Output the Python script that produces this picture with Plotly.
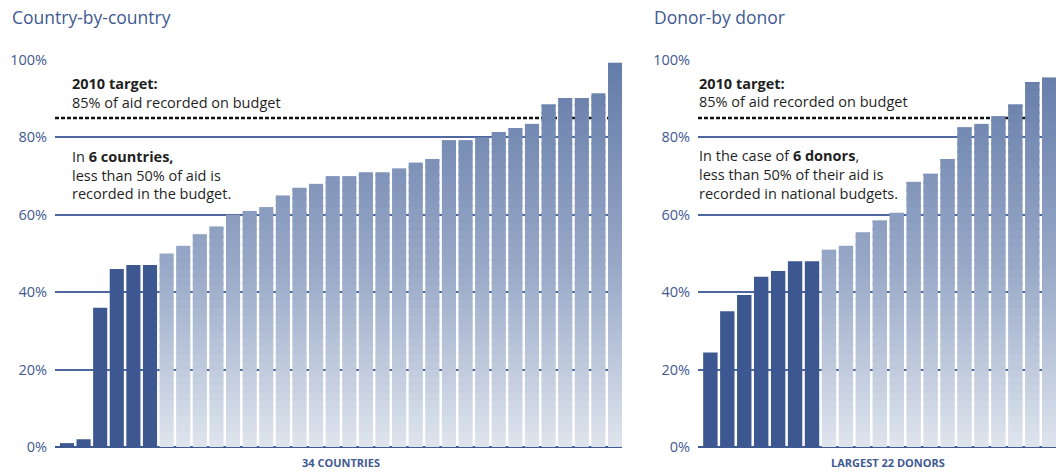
import plotly.graph_objects as go
from plotly.colors import sample_colorscale

# Share of aid recorded on budget (%), sorted ascending
countries_pct = [1, 2, 36, 46, 47, 47, 50, 52, 55, 57, 60, 61, 62, 65, 67, 68, 70, 70,
                 71, 71, 72, 73.5, 74.3, 79.3, 79.3, 80, 81.4, 82.3, 83.5, 88.5, 90.1,
                 90.1, 91.4, 99.3]
donors_pct = [24.4, 35.1, 39.3, 44, 45.5, 48, 48, 51, 52, 55.5, 58.5, 60.5, 68.5, 70.6,
              74.3, 82.6, 83.5, 85.5, 88.5, 94.3, 95.5, 97]

target_pct = 85
threshold_pct = 50
y_ticks = [0, 20, 40, 60, 80, 100]
y_tick_text = ["0%", "20%", "40%", "60%", "80%", "100%"]

W, H = 1056, 472
BLUE = "#3f5a91"
DARK_BAR = "#3d5890"
GRAD = [[0.0, "#dfe5ee"], [0.45, "#9aaac8"], [1.0, "#637ba8"]]
FONT = "Open Sans"


def px_x(x):
    return x / W


def px_y(y):
    return 1 - y / H


fig = go.Figure()


def add_bars(values, xaxis, yaxis):
    idx = list(range(len(values)))
    dark = [v if v < threshold_pct else 0 for v in values]
    fig.add_trace(go.Bar(x=idx, y=dark, base=0, marker=dict(color=DARK_BAR, line=dict(width=0)),
                         xaxis=xaxis, yaxis=yaxis, showlegend=False, hoverinfo="skip"))
    # light bars are built from thin horizontal slices to get a vertical gradient;
    # each slice overlaps the next one a little so no seams show
    step, overlap = 2, 0.6
    for k in range(0, 100, step):
        seg = [max(0, min(step + overlap, v - k)) if v >= threshold_pct else 0 for v in values]
        if not any(seg):
            continue
        col = sample_colorscale(GRAD, [(k + step / 2) / 100])[0]
        fig.add_trace(go.Bar(x=idx, y=seg, base=[k] * len(values),
                             marker=dict(color=col, line=dict(width=0)),
                             xaxis=xaxis, yaxis=yaxis, showlegend=False, hoverinfo="skip"))


add_bars(countries_pct, "x", "y")
add_bars(donors_pct, "x2", "y2")

ydom = [px_y(447), px_y(60)]
yax = dict(range=[0, 100], domain=ydom, tickvals=y_ticks, ticktext=y_tick_text,
           showgrid=True, gridcolor="#4e67a0", gridwidth=1.5,
           zeroline=True, zerolinecolor=BLUE, zerolinewidth=2.2,
           tickfont=dict(family=FONT, size=14.5, color=BLUE), ticks="",
           ticklabelstandoff=7, showline=False, fixedrange=True, automargin=False)
xax = dict(showticklabels=False, showgrid=False, zeroline=False, ticks="", fixedrange=True,
           automargin=False)

fig.update_layout(
    template="none",
    width=W, height=H,
    margin=dict(l=0, r=0, t=0, b=0, pad=0, autoexpand=False),
    paper_bgcolor="white", plot_bgcolor="white",
    barmode="overlay", bargap=0.15,
    xaxis=dict(xax, domain=[px_x(55), px_x(622)], range=[-0.72, 33.42]),
    yaxis=dict(yax, anchor="x"),
    xaxis2=dict(xax, domain=[px_x(698), 1.0], range=[-0.73, 20.4], anchor="y2"),
    yaxis2=dict(yax, anchor="x2"),
)

# 2010 target lines (behind the bars)
fig.add_shape(type="line", xref="x domain", yref="y", x0=0, x1=(32.6 + 0.72) / (33.42 + 0.72),
              y0=target_pct, y1=target_pct, layer="below",
              line=dict(color="#111111", width=2.5, dash="4px,2px"))
fig.add_shape(type="line", xref="x2 domain", yref="y2", x0=0, x1=(18.6 + 0.73) / (20.4 + 0.73),
              y0=target_pct, y1=target_pct, layer="below",
              line=dict(color="#111111", width=2.5, dash="4px,2px"))


def text(x, y, s, size=14.5, color="#1f1f1f", anchor="left"):
    fig.add_annotation(x=px_x(x), y=px_y(y), xref="paper", yref="paper", text=s,
                       showarrow=False, xanchor=anchor, yanchor="middle",
                       font=dict(family=FONT, size=size, color=color))


text(10, 17, "Country-by-country", size=17.5, color=BLUE)
text(652, 17, "Donor-by donor", size=17.5, color=BLUE)

text(70, 84, "<b>2010 target:</b>")
text(70, 103, "85% of aid recorded on budget")
text(70, 156, "In <b>6 countries,</b>")
text(70, 175, "less than 50% of aid is")
text(70, 193, "recorded in the budget.")

text(697, 84, "<b>2010 target:</b>")
text(697, 102, "85% of aid recorded on budget")
text(697, 155, "In the case of <b>6 donors</b>,")
text(697, 174, "less than 50% of their aid is")
text(697, 193, "recorded in national budgets.")

fig.add_annotation(x=(len(countries_pct) - 1) / 2, y=px_y(462), xref="x", yref="paper",
                   text="<b>34 COUNTRIES</b>", showarrow=False, xanchor="center",
                   yanchor="middle", font=dict(family=FONT, size=11, color=BLUE))
fig.add_annotation(x=(len(donors_pct) - 1) / 2, y=px_y(462), xref="x2", yref="paper",
                   text="<b>LARGEST 22 DONORS</b>", showarrow=False, xanchor="center",
                   yanchor="middle", font=dict(family=FONT, size=11, color=BLUE))

fig.write_html("out.html")
